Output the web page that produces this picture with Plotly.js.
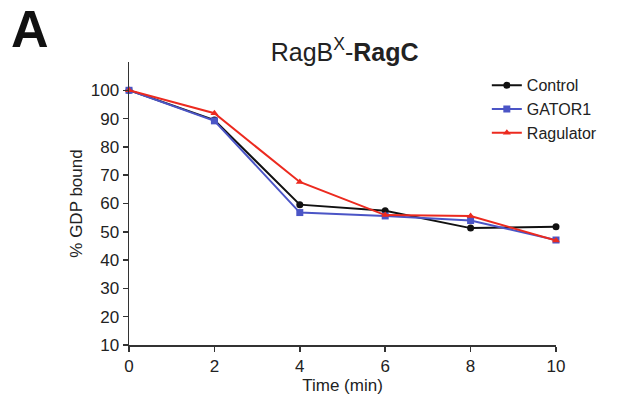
<!DOCTYPE html>
<html><head><meta charset="utf-8">
<script src="https://cdn.plot.ly/plotly-3.0.1.min.js"></script>
<style>body{margin:0;background:#fff}#c{width:629px;height:405px}</style>
</head><body><div id="c"></div>
<script>
const time = [0, 2, 4, 6, 8, 10];
const control = [100, 89.5, 59.6, 57.4, 51.3, 51.8];
const gator1 = [100, 89.2, 56.8, 55.6, 54.0, 47.1];
const ragulator = [100, 91.9, 67.6, 55.9, 55.6, 46.9];
const yTicks = [10, 20, 30, 40, 50, 60, 70, 80, 90, 100];
const xTicks = [0, 2, 4, 6, 8, 10];

const F = 'Liberation Sans, Arial, Helvetica, sans-serif';
function tr(name, y, color, symbol, size) {
  return {x: time, y: y, name: name, type: 'scatter', mode: 'lines+markers',
    line: {color: color, width: 2}, marker: {color: color, symbol: symbol, size: size},
    cliponaxis: false};
}
const data = [
  tr('Control', control, '#111111', 'circle', 7),
  tr('GATOR1', gator1, '#4b55c6', 'square', 7),
  tr('Ragulator', ragulator, '#ec2a1f', 'triangle-up', 7)
];
const layout = {
  width: 629, height: 405,
  margin: {l: 129, r: 73, t: 62, b: 60},
  paper_bgcolor: '#fff', plot_bgcolor: '#fff',
  font: {family: F, color: '#222', size: 17},
  title: {text: 'RagB<sup>X</sup>-<b>RagC</b>', font: {size: 25, family: F, color: '#222'},
    xref: 'container', yref: 'container',
    x: 0.548, xanchor: 'center', y: 0.872, yanchor: 'middle'},
  showlegend: true,
  legend: {x: 0.838, xanchor: 'left', y: 0.978, yanchor: 'top', bgcolor: 'rgba(0,0,0,0)',
    font: {size: 16, family: F, color: '#222'}, tracegroupgap: 0, itemwidth: 30},
  xaxis: {range: [0, 10], tickvals: xTicks, ticktext: xTicks.map(String),
    showgrid: false, zeroline: false, showline: true, linecolor: '#333', linewidth: 1.5,
    ticks: 'outside', ticklen: 5, tickcolor: '#333', tickwidth: 1.5,
    tickfont: {size: 17, family: F, color: '#222'},
    title: {text: 'Time (min)', font: {size: 17, family: F, color: '#222'}, standoff: 3}},
  yaxis: {range: [10, 110], tickvals: yTicks, ticktext: yTicks.map(String),
    showgrid: false, zeroline: false, showline: true, linecolor: '#333', linewidth: 1.5,
    ticks: 'outside', ticklen: 5, tickcolor: '#333', tickwidth: 1.5,
    tickfont: {size: 17, family: F, color: '#222'},
    title: {text: '% GDP bound', font: {size: 17, family: F, color: '#222'}, standoff: 4}},
  annotations: [{text: '<b>A</b>', xref: 'paper', yref: 'paper', x: -0.281, y: 1.225,
    xanchor: 'left', yanchor: 'top', showarrow: false,
    font: {size: 52, family: F, color: '#111'}}]
};
Plotly.newPlot('c', data, layout, {staticPlot: true});
</script></body></html>
